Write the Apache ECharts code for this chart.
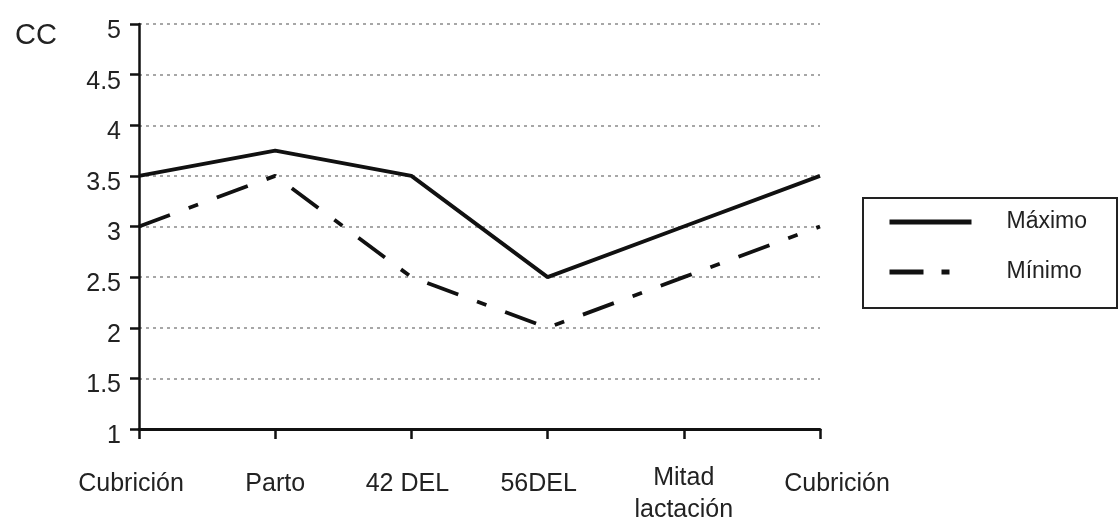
<!DOCTYPE html>
<html>
<head>
<meta charset="utf-8">
<script src="https://cdn.jsdelivr.net/npm/echarts@6/dist/echarts.min.js"></script>
<style>
html,body{margin:0;padding:0;background:#fff;}
#main{width:1119px;height:526px;}
</style>
</head>
<body>
<div id="main"></div>
<script>
const categories = ['Cubrición', 'Parto', '42 DEL', '56DEL', 'Mitad\nlactación', 'Cubrición'];
const maximo = [3.5, 3.75, 3.5, 2.5, 3.0, 3.5];
const minimo = [3.0, 3.5, 2.5, 2.0, 2.5, 3.0];
const seriesNames = ['Máximo', 'Mínimo'];
const yMin = 1, yMax = 5, yStep = 0.5;
const yTitle = 'CC';

const FONT = '"Liberation Sans", Arial, Helvetica, sans-serif';
const INK = '#111';
const MIN_DASH = [33, 20, 10, 20];

// per-label nudges (rich styles) to mimic the reference placement
const labelStyle = ['l8', 'p', 'l4', 'l9', 'n', 'r17'];

function rs(pad) {
  return {fontFamily: FONT, fontSize: 25, lineHeight: 32, color: '#222', padding: pad};
}
const hiddenSymbol = {color: 'rgba(0,0,0,0)', borderWidth: 0, opacity: 0};

const chart = echarts.init(document.getElementById('main'), null, {renderer: 'canvas'});
chart.setOption({
  backgroundColor: '#fff',
  animation: false,
  title: {
    text: yTitle, left: 10, top: 16,
    textStyle: {fontFamily: FONT, fontSize: 29, fontWeight: 'normal', color: '#222'}
  },
  grid: {left: 139, right: 299, top: 24, bottom: 95, containLabel: false},
  legend: {
    show: true,
    orient: 'vertical', left: 863, top: 198,
    borderColor: '#222', borderWidth: 2, borderRadius: 0,
    padding: [11, 30, 23, 24],
    itemWidth: 82, itemHeight: 14, itemGap: 24,
    textStyle: {fontFamily: FONT, fontSize: 23, color: '#222', lineHeight: 26, padding: [0, 0, 0, 30]},
    data: [
      {name: seriesNames[0], itemStyle: hiddenSymbol, lineStyle: {color: INK, width: 5, type: 'solid'}},
      {name: seriesNames[1], itemStyle: hiddenSymbol, lineStyle: {color: INK, width: 5, type: [34, 18, 8, 40]}}
    ]
  },
  xAxis: {
    type: 'category', data: categories, boundaryGap: false,
    axisLine: {lineStyle: {color: INK, width: 3}},
    axisTick: {show: true, length: 10, lineStyle: {color: INK, width: 2.5}},
    axisLabel: {
      interval: 0, margin: 33, color: '#222', fontFamily: FONT, fontSize: 25, lineHeight: 32,
      formatter: function (v, i) { return '{' + labelStyle[i] + '|' + v + '}'; },
      rich: {
        n: rs([0, 0, 0, 0]),
        p: rs([12, 0, 0, 0]),
        l8: rs([12, 16, 0, 0]),
        l4: rs([12, 8, 0, 0]),
        l9: rs([12, 18, 0, 0]),
        r17: rs([12, 0, 0, 34])
      }
    },
    splitLine: {show: false}
  },
  yAxis: {
    type: 'value', min: yMin, max: yMax, interval: yStep,
    axisLine: {show: true, lineStyle: {color: INK, width: 2.5}},
    axisTick: {show: true, length: 9, lineStyle: {color: INK, width: 2.5}},
    axisLabel: {margin: 18, color: '#222', fontFamily: FONT, fontSize: 25, verticalAlign: 'top', lineHeight: 14},
    splitLine: {show: true, lineStyle: {color: '#8a8a8a', width: 1.5, type: [3, 4]}}
  },
  series: [
    {
      name: seriesNames[0], type: 'line', data: maximo, symbol: 'none',
      lineStyle: {color: INK, width: 3.8, type: 'solid'}, itemStyle: {color: INK}, z: 3
    },
    {
      name: seriesNames[1], type: 'line', data: minimo, symbol: 'none',
      lineStyle: {color: INK, width: 3.8, type: MIN_DASH}, itemStyle: {color: INK}, z: 3
    }
  ]
});
</script>
</body>
</html>
